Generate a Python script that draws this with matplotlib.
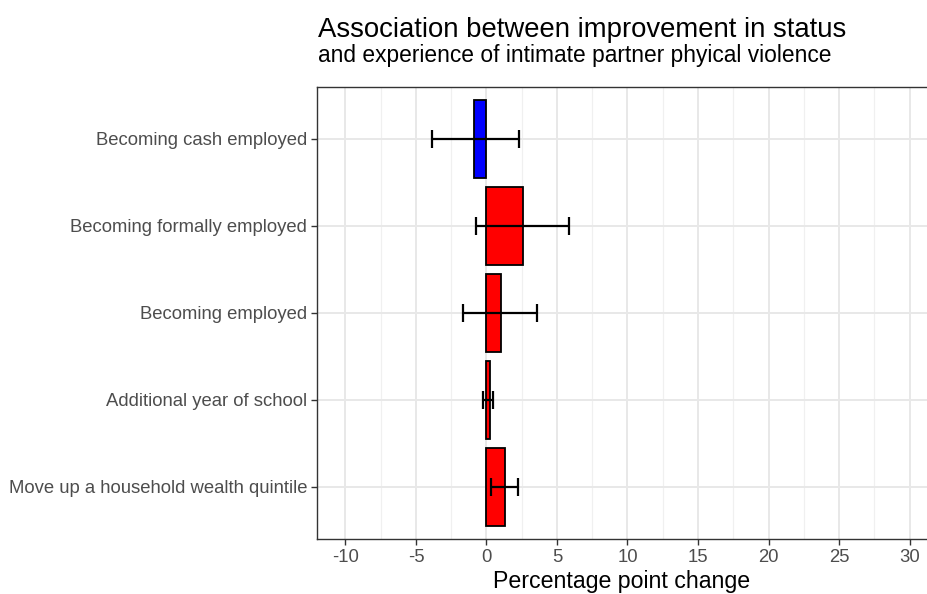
import numpy as np
import matplotlib.pyplot as plt
plt.rcParams.update({'font.family': ['Liberation Sans', 'DejaVu Sans'],
                     'axes.unicode_minus': False})

# outcome categories, top to bottom
categories = [
    "Becoming cash employed",
    "Becoming formally employed",
    "Becoming employed",
    "Additional year of school",
    "Move up a household wealth quintile",
]
estimate = [-0.87, 2.61, 1.03, 0.25, 1.29]
ci_low = [-3.89, -0.74, -1.64, -0.23, 0.30]
ci_high = [2.30, 5.87, 3.60, 0.48, 2.26]
bar_colors = ["blue", "red", "red", "red", "red"]

fig = plt.figure(figsize=(9.27, 5.94), dpi=100)
ax = fig.add_axes([317 / 927, 55 / 594, 610 / 927, 452.3 / 594])

y = np.arange(len(categories))[::-1]

# ggplot-like grid
ax.set_xticks(np.arange(-10, 31, 5))
ax.set_xticks(np.arange(-7.5, 31, 5), minor=True)
ax.set_yticks(y)
ax.set_yticklabels(categories)
ax.grid(which='major', color='#e8e8e8', linewidth=1.4, zorder=0)
ax.grid(which='minor', axis='x', color='#f0f0f0', linewidth=0.9, zorder=0)
ax.set_axisbelow(True)

ax.barh(y, estimate, height=0.9, color=bar_colors, edgecolor='black', linewidth=1.3, zorder=2)

# error bars with caps 0.2 wide in category units
ax.hlines(y, ci_low, ci_high, color='black', linewidth=1.6, zorder=3)
ax.vlines(ci_low, y - 0.1, y + 0.1, color='black', linewidth=1.6, zorder=3)
ax.vlines(ci_high, y - 0.1, y + 0.1, color='black', linewidth=1.6, zorder=3)

ax.set_xlim(-12.02, 31.24)
ax.set_ylim(-0.6, len(categories) - 0.4)

for side in ['left', 'top', 'bottom']:
    ax.spines[side].set_color('#333333')
    ax.spines[side].set_linewidth(1.0)
ax.spines['right'].set_visible(False)

ax.tick_params(axis='both', which='major', colors='#333333', length=4, width=1.0,
               labelsize=13.3, labelcolor='#4d4d4d', pad=3)
ax.tick_params(axis='x', which='minor', length=0)

ax.set_xlabel("Percentage point change", fontsize=16.7, color='black', labelpad=3)

fig.text(318 / 927, 1 - 36.7 / 594, "Association between improvement in status",
         fontsize=19.8, color='black', ha='left', va='baseline')
fig.text(318 / 927, 1 - 61.7 / 594, "and experience of intimate partner phyical violence",
         fontsize=16.4, color='black', ha='left', va='baseline')

fig.savefig("out.png", dpi=100)
